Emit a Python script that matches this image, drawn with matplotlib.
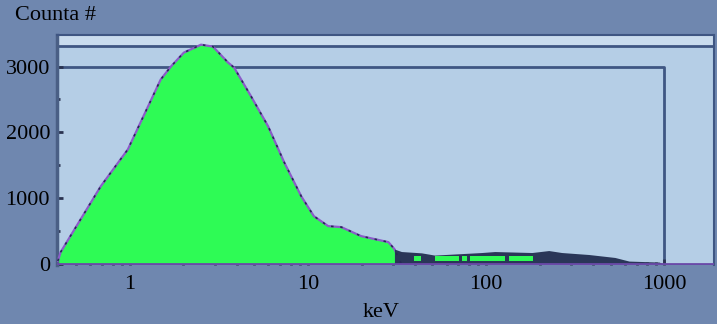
import matplotlib.pyplot as plt
import numpy as np
from matplotlib.ticker import FixedLocator, LogLocator, NullFormatter

# spectrum envelope
kev = [0.394, 0.409, 0.687, 0.975, 1.49, 1.70, 2.01, 2.51, 2.93, 3.56, 3.85,
       4.80, 5.98, 7.36, 9.17, 10.8, 13.0, 15.4, 19.9, 28.3, 30.6, 33.5]
counts = [45, 182, 1182, 1742, 2803, 3000, 3212, 3333, 3303, 3061, 2985,
          2545, 2091, 1545, 1030, 727, 576, 561, 424, 333, 227, 0]

# high-energy tail (dark)
tail_kev = [30.6, 33.5, 43.4, 51.4, 94.5, 112, 181, 225, 266, 377, 529, 635, 936, 1000]
tail_counts = [227, 190, 170, 136, 175, 190, 175, 205, 175, 145, 100, 45, 30, 0]

# green patches inside the tail: start, end keV
patch_start = [39.6, 51.4, 73.1, 80.8, 135]
patch_end = [43.4, 70.2, 77.9, 127, 184]
patch_low = 45
patch_high = 120

box_level = 3000
upper_level = 3318

bg = '#6f87af'
panel = '#b5cee6'
green = '#2efb55'
navy = '#2a3658'
edge = '#3f5683'

plt.rcParams['font.family'] = ['Liberation Serif']

fig = plt.figure(figsize=(7.17, 3.24), dpi=100, facecolor=bg)
ax = fig.add_axes([0.0795, 0.182, 0.916, 0.71])
ax.set_facecolor(panel)
ax.set_xscale('log')
ax.set_xlim(0.39, 1900)
ax.set_ylim(-15, 3480)

ax.fill_between(kev, counts, 0, color=green, zorder=2, linewidth=0)
ax.plot(kev, counts, color='#8a5cc8', lw=1.6, zorder=3)
ax.plot(kev, counts, color='#262a55', lw=1.2, ls=(0, (1.5, 4)), zorder=4)

ax.fill_between(tail_kev, tail_counts, 0, color=navy, zorder=3, linewidth=0)
for s, e in zip(patch_start, patch_end):
    ax.fill_between([s, e], patch_low, patch_high, color=green, zorder=4, linewidth=0)

ax.axhline(0, color='#6a4aa8', lw=2, zorder=5)

# frame lines
ax.plot([0.39, 1000, 1000], [box_level, box_level, 0], color=edge, lw=2, zorder=1)
ax.axhline(upper_level, color=edge, lw=2, zorder=1)
ax.axhspan(upper_level, 3480, color='#cadcee', zorder=0)

for side in ['top', 'right']:
    ax.spines[side].set_color(edge)
    ax.spines[side].set_linewidth(1.5)
ax.spines['left'].set_color('#4a5f85')
ax.spines['left'].set_linewidth(2.5)
ax.spines['bottom'].set_visible(False)

ax.yaxis.set_major_locator(FixedLocator([0, 1000, 2000, 3000]))
ax.yaxis.set_minor_locator(FixedLocator([500, 1500, 2500]))
ax.xaxis.set_major_locator(FixedLocator([1, 10, 100, 1000]))
ax.xaxis.set_minor_locator(LogLocator(base=10, subs=np.arange(2, 10)))
ax.xaxis.set_minor_formatter(NullFormatter())
ax.set_xticklabels(['1', '10', '100', '1000'])

ax.tick_params(axis='both', which='both', direction='in', color='#2a3350', width=2)
ax.tick_params(axis='both', which='major', length=4, labelsize=16, labelcolor='black')
ax.tick_params(axis='both', which='minor', length=2)
ax.tick_params(axis='x', pad=7)
ax.tick_params(axis='y', pad=5)

fig.text(0.021, 0.953, 'Counta #', fontsize=16, va='center', ha='left')
fig.text(0.532, 0.035, 'keV', fontsize=16, va='center', ha='center')

fig.savefig('out.png', dpi=100, facecolor=bg)
